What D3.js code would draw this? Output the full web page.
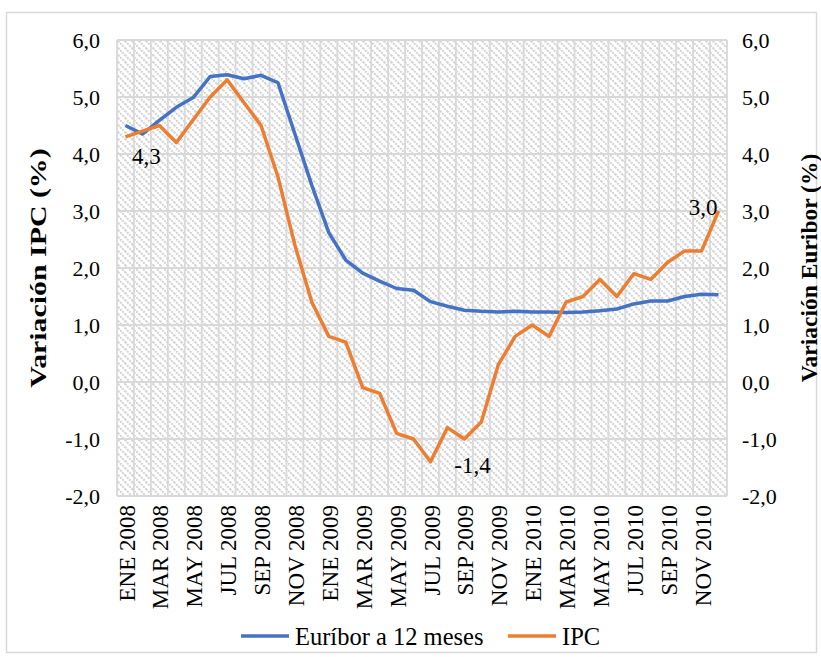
<!DOCTYPE html>
<html><head><meta charset="utf-8">
<script src="https://cdn.jsdelivr.net/npm/d3@7"></script>
<style>
body{margin:0;background:#fff;}
text{font-family:"Liberation Serif","Times New Roman",serif;fill:#000;}
</style></head>
<body>
<svg id="c" width="821" height="657"></svg>
<script>
const months = ["ENE","FEB","MAR","ABR","MAY","JUN","JUL","AGO","SEP","OCT","NOV","DIC"];
const years = ["2008","2009","2010"];
const categories = years.flatMap(y => months.map(m => m + " " + y));
const euribor = [4.50,4.35,4.59,4.82,4.99,5.36,5.39,5.32,5.38,5.25,4.35,3.45,
                 2.62,2.14,1.91,1.77,1.64,1.61,1.41,1.33,1.26,1.24,1.23,1.24,
                 1.23,1.23,1.22,1.23,1.25,1.28,1.37,1.42,1.42,1.50,1.54,1.53];
const ipc = [4.3,4.4,4.5,4.2,4.6,5.0,5.3,4.9,4.5,3.6,2.4,1.4,
             0.8,0.7,-0.1,-0.2,-0.9,-1.0,-1.4,-0.8,-1.0,-0.7,0.3,0.8,
             1.0,0.8,1.4,1.5,1.8,1.5,1.9,1.8,2.1,2.3,2.3,3.0];
const yTicks = [-2,-1,0,1,2,3,4,5,6];
const seriesNames = ["Euríbor a 12 meses","IPC"];
const colors = ["#4472C4","#ED7D31"];
const dataLabels = [{i:0,text:"4,3"},{i:18,text:"-1,4"},{i:35,text:"3,0"}];

const svg = d3.select("#c");
const L=117,R=727,T=40,B=496;
const x = d3.scaleBand().domain(categories).range([L,R]).padding(0);
const y = d3.scaleLinear().domain([-2,6]).range([B,T]);
const cx = c => x(c)+x.bandwidth()/2;
const fmt = v => d3.format(".1f")(v).replace(".",",").replace("−","-");

svg.append("rect").attr("width",821).attr("height",657).attr("fill","#fff");
svg.append("rect").attr("x",6.5).attr("y",12.5).attr("width",810).attr("height",640)
  .attr("fill","none").attr("stroke","#d9d9d9").attr("stroke-width",1.5);

const defs = svg.append("defs");
const pat = defs.append("pattern").attr("id","hatch").attr("patternUnits","userSpaceOnUse")
  .attr("width",7).attr("height",7);
pat.append("rect").attr("width",7).attr("height",7).attr("fill","#fff");
pat.append("path").attr("d","M-1,-1 L8,8 M-1,6 L1,8 M6,-1 L8,1")
  .attr("stroke","#d2d2d2").attr("stroke-width",2).attr("stroke-dasharray","2,1");

svg.append("rect").attr("x",L).attr("y",T).attr("width",R-L).attr("height",B-T).attr("fill","url(#hatch)");

// gridlines
const grid = svg.append("g").attr("stroke","#d9d9d9").attr("stroke-width",1.8);
grid.selectAll(".h").data(yTicks).join("line")
  .attr("x1",L).attr("x2",R).attr("y1",d=>y(d)).attr("y2",d=>y(d));
const bounds = categories.map(c=>x(c)).concat([R]);
grid.selectAll(".v").data(bounds).join("line")
  .attr("x1",d=>d).attr("x2",d=>d).attr("y1",T).attr("y2",B);

// axes
const axL = svg.append("g").attr("transform",`translate(${L},0)`)
  .call(d3.axisLeft(y).tickValues(yTicks).tickFormat(fmt).tickSize(0).tickPadding(17));
const axR = svg.append("g").attr("transform",`translate(${R},0)`)
  .call(d3.axisRight(y).tickValues(yTicks).tickFormat(fmt).tickSize(0).tickPadding(15));
[axL,axR].forEach(a=>{a.select(".domain").remove();
  a.selectAll("text").attr("font-size",22);});

const axB = svg.append("g").attr("transform",`translate(0,${B})`)
  .call(d3.axisBottom(x).tickValues(categories.filter((d,i)=>i%2===0)).tickSize(0));
axB.select(".domain").remove();
axB.selectAll("text").attr("font-size",23)
  .attr("transform","rotate(-90)").attr("text-anchor","end")
  .attr("x",-9).attr("y",1).attr("dy","0.35em");

// titles
svg.append("text").attr("transform",`translate(46,${(T+B)/2}) rotate(-90) scale(1.27,1)`)
  .attr("text-anchor","middle").attr("font-weight","bold").attr("font-size",23.5)
  .text("Variación IPC (%)");
svg.append("text").attr("transform",`translate(817,${(T+B)/2}) rotate(-90)`)
  .attr("text-anchor","middle").attr("font-weight","bold").attr("font-size",23.5)
  .text("Variación Euribor (%)");

// lines
const line = d3.line().x((d,i)=>cx(categories[i])).y(d=>y(d));
[euribor,ipc].forEach((s,k)=>{
  svg.append("path").datum(s).attr("d",line).attr("fill","none")
    .attr("stroke",colors[k]).attr("stroke-width",3.5).attr("stroke-linejoin","round");
});

// data labels
const off = {0:[21,27,"middle"],18:[42,11,"middle"],35:[-1,4,"end"]};
svg.selectAll(".dl").data(dataLabels).join("text")
  .attr("x",d=>cx(categories[d.i])+off[d.i][0])
  .attr("y",d=>y(ipc[d.i])+off[d.i][1])
  .attr("text-anchor",d=>off[d.i][2]).attr("font-size",23).text(d=>d.text);

// legend
const lg = svg.append("g").attr("transform","translate(0,636)");
const lx = [241,508];
seriesNames.forEach((n,k)=>{
  lg.append("line").attr("x1",lx[k]).attr("x2",lx[k]+48).attr("y1",0).attr("y2",0)
    .attr("stroke",colors[k]).attr("stroke-width",3.5);
  lg.append("text").attr("x",lx[k]+54).attr("y",0).attr("dy","0.35em").attr("font-size",24.5).text(n);
});
</script>
</body></html>
